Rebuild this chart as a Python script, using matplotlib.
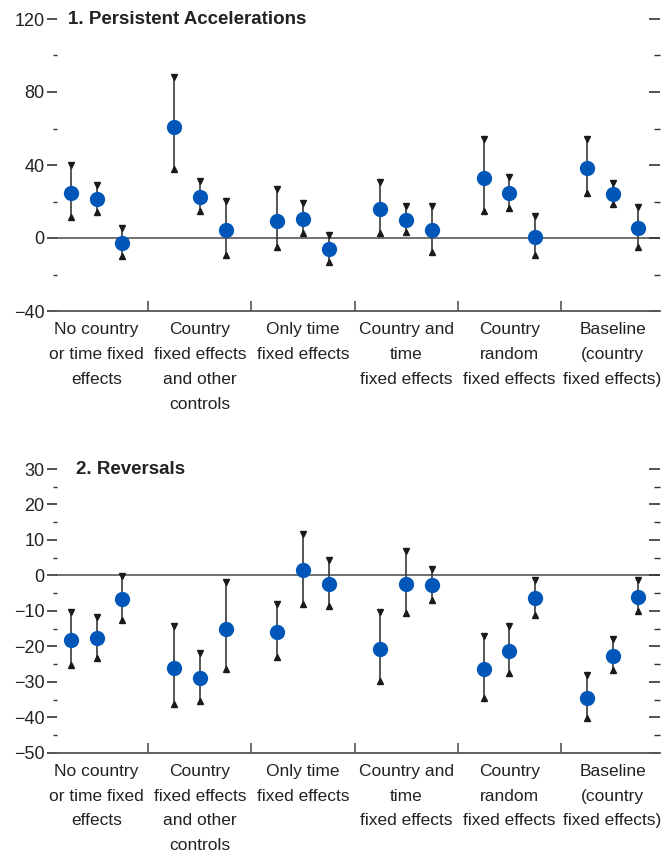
import numpy as np
import matplotlib
matplotlib.use("Agg")
import matplotlib.pyplot as plt

plt.rcParams['font.family'] = ['Liberation Sans', 'DejaVu Sans']

categories = ["No country\nor time fixed\neffects",
              "Country\nfixed effects\nand other\ncontrols",
              "Only time\nfixed effects",
              "Country and\ntime\nfixed effects",
              "Country\nrandom\nfixed effects",
              "Baseline\n(country\nfixed effects)"]

# three estimates per category: point, upper bound, lower bound
accel_mid = [[24.8, 21.2, -2.9], [60.6, 22.6, 4.4], [9.5, 10.6, -6.2],
             [15.9, 10.0, 4.2], [33.0, 24.5, 0.7], [38.4, 24.3, 5.5]]
accel_hi = [[40.0, 28.8, 5.4], [88.0, 31.5, 20.4], [27.0, 19.1, 1.8],
            [30.8, 17.7, 17.7], [54.5, 33.3, 12.2], [54.4, 30.0, 16.9]]
accel_lo = [[11.6, 14.3, -9.8], [37.7, 14.9, -9.4], [-5.0, 2.6, -13.4],
            [2.8, 3.2, -7.4], [15.0, 16.7, -9.4], [24.7, 18.7, -4.8]]

rev_mid = [[-18.2, -17.7, -6.7], [-26.2, -29.0, -15.0], [-15.9, 1.4, -2.4],
           [-20.8, -2.3, -2.8], [-26.4, -21.2, -6.5], [-34.6, -22.6, -6.0]]
rev_hi = [[-10.2, -11.6, -0.3], [-14.4, -21.8, -2.0], [-8.1, 11.6, 4.3],
          [-10.3, 7.0, 1.9], [-17.0, -14.2, -1.4], [-28.1, -18.0, -1.4]]
rev_lo = [[-25.3, -23.4, -12.7], [-36.3, -35.5, -26.3], [-23.0, -8.1, -8.6],
          [-29.8, -10.7, -7.0], [-34.6, -27.4, -11.3], [-40.2, -26.8, -10.0]]

BLUE = "#0057b7"
offsets = [-0.25, 0.0, 0.25]

fig = plt.figure(figsize=(6.65, 8.57), dpi=100)
W, H = 665.0, 857.0
PX = 615 / 5.96  # pixels per category unit


def panel(top_px, bot_px, mid, hi, lo, ylim, major, minor, labels, title, title_dx):
    ax = fig.add_axes([45 / W, 1 - bot_px / H, 615 / W, (bot_px - top_px) / H])
    ax.set_xlim(-0.5, 5.46)
    ax.set_ylim(*ylim)
    x0 = -0.5 + 12 / PX
    ax.spines['top'].set_visible(False)
    ax.spines['right'].set_color('none')
    ax.spines['left'].set_color('none')
    ax.spines['left'].set_position(('data', x0))
    ax.spines['bottom'].set_color('#555555')
    ax.spines['bottom'].set_linewidth(1.3)
    ax.spines['bottom'].set_bounds(x0, 5.46)

    ax.axhline(0, xmin=(x0 + 0.5) / 5.96, color='#707070', lw=1.4, zorder=1)

    xs = np.array([[i + o for o in offsets] for i in range(len(mid))]).ravel()
    m = np.array(mid).ravel()
    h = np.array(hi).ravel()
    l = np.array(lo).ravel()
    ax.vlines(xs, l, h, color='#3a3a3a', lw=1.2, zorder=2)
    ax.plot(xs, h, 'v', color='#1a1a1a', ms=5, zorder=3)
    ax.plot(xs, l, '^', color='#1a1a1a', ms=5, zorder=3)
    ax.plot(xs, m, 'o', color=BLUE, ms=11, zorder=4, mec='none')

    ax.set_yticks(major)
    ax.set_yticklabels([str(v).replace('-', '\u2212') for v in major], fontsize=13,
                       color='#222222')
    ax.set_yticks(minor, minor=True)
    ax.tick_params(axis='y', which='major', direction='out', length=7, width=1.2,
                   color='#333333', pad=2, right=True)
    ax.tick_params(axis='y', which='minor', direction='out', length=3, width=1.0,
                   color='#333333', right=True)
    ax.tick_params(axis='y', which='both', labelright=False)
    # right ticks point inward
    for t in ax.yaxis.get_major_ticks():
        t.tick2line.set_marker(matplotlib.lines.TICKLEFT)
        t.tick2line.set_markersize(8)
    for t in ax.yaxis.get_minor_ticks():
        t.tick2line.set_marker(matplotlib.lines.TICKLEFT)
        t.tick2line.set_markersize(4)

    ax.set_xticks(range(len(labels)))
    ax.set_xticklabels(labels, fontsize=12.5, linespacing=1.82, va='top',
                       color='#222222')
    ax.set_xticks([i + 0.5 for i in range(len(labels) - 1)], minor=True)
    ax.tick_params(axis='x', which='major', length=0, pad=8)
    ax.tick_params(axis='x', which='minor', direction='in', length=7, width=1.2,
                   color='#555555')
    ax.text(x0 + title_dx / PX, major[-1], title, fontsize=13.5, fontweight='bold',
            ha='left', va='center', color='#222222')
    return ax


a1 = panel(19, 311, accel_mid, accel_hi, accel_lo, (-40, 120),
           [-40, 0, 40, 80, 120], [-20, 20, 60, 100], categories,
           "1. Persistent Accelerations", 11)
a2 = panel(469, 752.7, rev_mid, rev_hi, rev_lo, (-50, 30),
           list(range(-50, 31, 10)), list(range(-45, 30, 10)), categories,
           "2. Reversals", 19)

fig.savefig("out.png", dpi=100)
